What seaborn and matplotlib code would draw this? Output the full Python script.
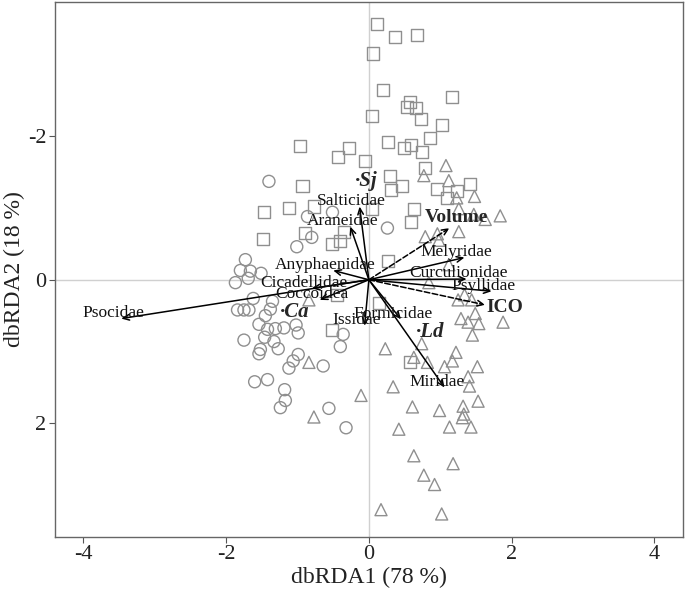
import numpy as np
import pandas as pd
import seaborn as sns
import matplotlib
matplotlib.use("Agg")
import matplotlib.pyplot as plt

# --- site scores (dbRDA1, dbRDA2) por grupo ---
sj_x = [0.11, 0.36, 0.68, 0.06, 0.20, 1.17, 0.57, 0.54, 0.66, 0.04, 0.73, 1.03, 0.86, 0.27,
        0.49, 0.59, 0.74, -0.97, -0.28, -0.43, -0.05, 0.79, 0.29, 0.31, 0.47, 0.95, 1.41,
        1.23, 1.09, -0.93, -1.47, -1.12, -0.77, 0.05, 0.63, 0.59, -1.48, -0.90, -0.35, -0.52,
        -0.41, 0.27, 0.14, -0.52, 0.57, -0.44]
sj_y = [-3.56, -3.38, -3.41, -3.15, -2.64, -2.54, -2.48, -2.41, -2.39, -2.28, -2.24, -2.16,
        -1.97, -1.92, -1.83, -1.87, -1.78, -1.86, -1.83, -1.71, -1.66, -1.55, -1.45, -1.25,
        -1.30, -1.27, -1.33, -1.23, -1.14, -1.31, -0.95, -1.00, -1.02, -0.99, -0.99, -0.81,
        -0.57, -0.65, -0.66, -0.50, -0.54, -0.26, 0.33, 0.70, 1.15, 0.21]

ca_x = [-1.40, -0.86, -0.51, -0.80, -1.01, 0.26, -1.73, -1.80, -1.66, -1.87, -1.69, -1.51,
        -1.84, -1.75, -1.68, -1.62, -1.38, -1.45, -1.54, -1.42, -1.31, -1.19, -1.02, -0.99,
        -1.75, -1.46, -1.33, -1.27, -1.52, -1.54, -0.36, -0.40, -0.99, -1.06, -1.12, -0.64,
        -1.60, -1.42, -1.18, -1.17, -1.24, -0.56, -0.32, -1.35]
ca_y = [-1.37, -0.88, -0.94, -0.59, -0.46, -0.72, -0.28, -0.13, -0.12, 0.04, -0.02, -0.09,
        0.42, 0.42, 0.42, 0.26, 0.41, 0.50, 0.62, 0.69, 0.68, 0.67, 0.63, 0.74,
        0.84, 0.80, 0.86, 0.96, 0.97, 1.03, 0.76, 0.93, 1.04, 1.13, 1.23, 1.20,
        1.42, 1.39, 1.53, 1.68, 1.78, 1.79, 2.06, 0.30]

ld_x = [1.08, 0.77, 1.12, 1.23, 1.48, 1.26, 1.47, 1.84, 1.63, 1.26, 0.96, 0.79, 0.98, 1.12,
        0.84, 1.25, 1.34, 1.44, 1.49, 1.29, 1.39, 1.54, 1.88, 1.45, 0.23, 0.74, 0.63, 0.82,
        1.06, 1.22, 1.17, 1.52, 1.39, 1.41, 0.34, 0.61, 0.99, 1.32, 1.53, 1.31, 1.33, 1.43,
        1.13, 0.42, 0.63, 1.18, 0.77, 0.92, 0.17, 1.02, -0.11, -0.77, -0.84, -0.84]
ld_y = [-1.59, -1.45, -1.38, -1.14, -1.16, -0.99, -0.91, -0.89, -0.84, -0.67, -0.64, -0.60,
        -0.55, -0.21, 0.04, 0.28, 0.21, 0.28, 0.47, 0.54, 0.59, 0.61, 0.59, 0.77, 0.96, 0.89,
        1.08, 1.15, 1.21, 1.01, 1.13, 1.21, 1.35, 1.48, 1.49, 1.77, 1.82, 1.76, 1.69, 1.92,
        1.87, 2.05, 2.05, 2.08, 2.45, 2.56, 2.72, 2.85, 3.20, 3.26, 1.61, 1.91, 1.15, 0.28]

# --- vetores das familias ---
familias = ['Psocidae', 'Salticidae', 'Araneidae', 'Anyphaenidae', 'Cicadellidae', 'Coccoidea',
            'Issidae', 'Formicidae', 'Miridae', 'Melyridae', 'Curculionidae', 'Psyllidae']
fam_x = [-3.47, -0.13, -0.26, -0.50, -0.80, -0.69, -0.06, 0.45, 1.06, 1.34, 1.37, 1.72]
fam_y = [0.54, -1.02, -0.74, -0.13, 0.12, 0.28, 0.64, 0.55, 1.50, -0.31, -0.01, 0.16]

# --- variaveis ambientais (setas tracejadas) ---
variaveis = ['Volume', 'ICO']
var_x = [1.13, 1.63]
var_y = [-0.72, 0.35]
var_lab_x = [1.23, 1.91]
var_lab_y = [-0.86, 0.39]

# --- centroides dos grupos ---
grupos = ['Sj', 'Ca', 'Ld']
cen_x = [-0.03, -1.04, 0.86]
cen_y = [-1.37, 0.45, 0.73]

df = pd.concat([
    pd.DataFrame({'x': sj_x, 'y': sj_y, 'grupo': 'Sj'}),
    pd.DataFrame({'x': ca_x, 'y': ca_y, 'grupo': 'Ca'}),
    pd.DataFrame({'x': ld_x, 'y': ld_y, 'grupo': 'Ld'}),
])

sns.set_style('white')
plt.rcParams['font.family'] = ['Liberation Serif', 'DejaVu Serif']
plt.rcParams['axes.unicode_minus'] = False

fig = plt.figure(figsize=(6.85, 5.92), dpi=100)
ax = fig.add_axes([0.080, 0.093, 0.917, 0.904])

ax.axhline(0, color='#d0d0d0', lw=1, zorder=0)
ax.axvline(0, color='#d0d0d0', lw=1, zorder=0)

sns.scatterplot(data=df, x='x', y='y', style='grupo',
                markers={'Sj': 's', 'Ca': 'o', 'Ld': '^'},
                s=75, legend=False, ax=ax, zorder=2)
for coll in ax.collections:
    coll.set_facecolor('none')
    coll.set_edgecolor('#8f8f8f')
    coll.set_linewidth(1.0)

# setas das familias
for nome, xe, ye in zip(familias, fam_x, fam_y):
    ax.annotate('', xy=(xe, ye), xytext=(0, 0),
                arrowprops=dict(arrowstyle='->,head_length=0.45,head_width=0.2',
                                color='black', lw=1.1, shrinkA=0, shrinkB=0), zorder=3)
    ax.text(xe - 0.11, ye - 0.08, nome, ha='center', va='center', fontsize=12.5,
            color='#111111', zorder=4)

# setas das variaveis
for nome, xe, ye, lx, ly in zip(variaveis, var_x, var_y, var_lab_x, var_lab_y):
    ax.annotate('', xy=(xe, ye), xytext=(0, 0),
                arrowprops=dict(arrowstyle='->,head_length=0.45,head_width=0.2',
                                color='black', lw=1.1, ls='--', shrinkA=0, shrinkB=0), zorder=3)
    ax.text(lx, ly, nome, ha='center', va='center', fontsize=14, fontweight='bold', zorder=4)

for g, cx, cy in zip(grupos, cen_x, cen_y):
    ax.text(cx, cy, '\u00b7' + g, ha='center', va='center', fontsize=15,
            fontweight='bold', fontstyle='italic', zorder=4)

ax.set_xlim(-4.40, 4.40)
ax.set_ylim(3.58, -3.87)
ax.set_xticks([-4, -2, 0, 2, 4])
ax.set_yticks([-2, 0, 2])
ax.set_xlabel('dbRDA1 (78 %)', fontsize=17, color='#222222', labelpad=2)
ax.set_ylabel('dbRDA2 (18 %)', fontsize=17, color='#222222', labelpad=2)
ax.tick_params(axis='both', labelsize=16, colors='#222222', length=4, direction='out',
               color='#555555', pad=2)
ax.tick_params(bottom=True, left=True)
for sp in ax.spines.values():
    sp.set_color('#666666')
    sp.set_linewidth(1.0)

fig.savefig('out.png', dpi=100)
